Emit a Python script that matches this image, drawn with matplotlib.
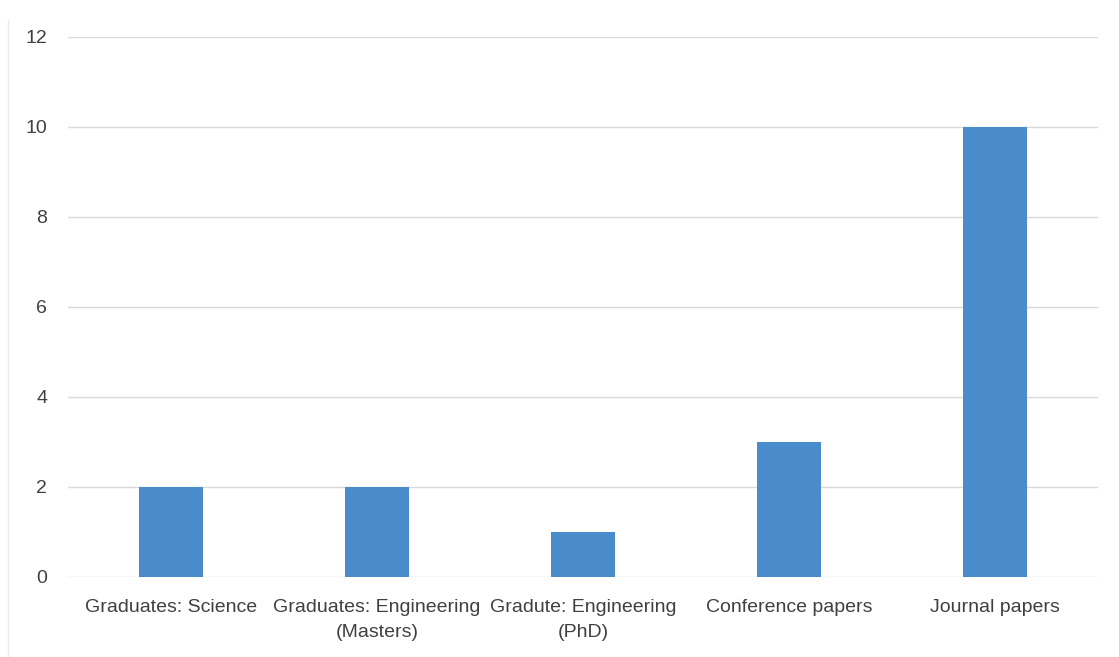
import matplotlib.pyplot as plt
from matplotlib.lines import Line2D

categories = ['Graduates: Science', 'Graduates: Engineering\n(Masters)',
              'Gradute: Engineering\n(PhD)', 'Conference papers', 'Journal papers']
values = [2, 2, 1, 3, 10]
yticks = [0, 2, 4, 6, 8, 10, 12]

plt.rcParams['font.family'] = ['Liberation Sans', 'DejaVu Sans']

fig = plt.figure(figsize=(11.19, 6.57), dpi=100)
ax = fig.add_axes([0.0608, 0.1218, 0.9202, 0.8219])

x = range(len(categories))
ax.bar(x, values, width=0.31, color='#4a8bcb', zorder=3)

ax.set_xlim(-0.5, len(categories) - 0.5)
ax.set_ylim(0, 12)
ax.set_yticks(yticks)
ax.set_xticks(list(x))
ax.set_xticklabels(categories, linespacing=1.58)
ax.grid(axis='y', color='#d9d9d9', linewidth=1.0, zorder=0)
for s in ax.spines.values():
    s.set_visible(False)
ax.tick_params(axis='both', length=0, labelsize=14, colors='#404040')
ax.tick_params(axis='y', pad=15)
ax.tick_params(axis='x', pad=16)

# faint scan edge on the left
fig.add_artist(Line2D([8 / 1119, 8 / 1119], [0, 0.97], color='#ececec',
                      linewidth=1, transform=fig.transFigure))

fig.savefig('out.png', dpi=100)
